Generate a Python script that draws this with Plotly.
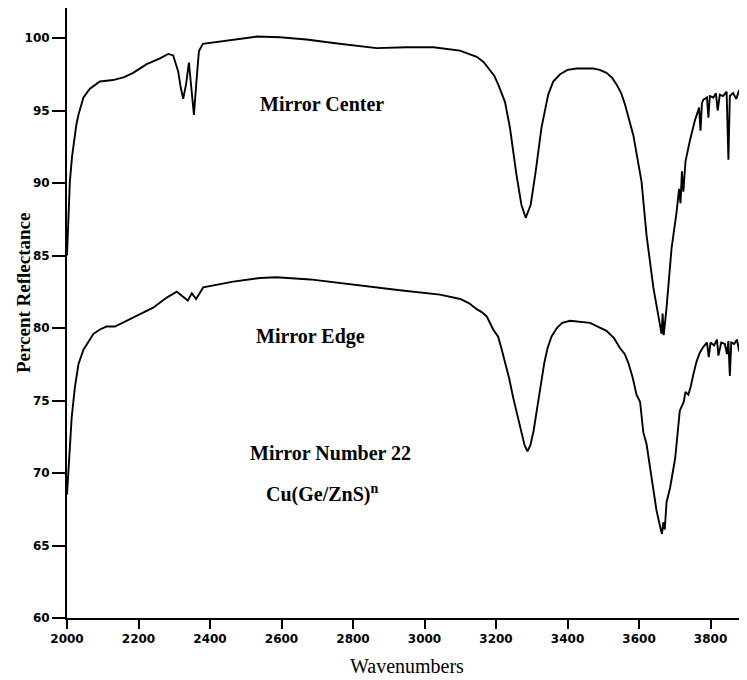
import plotly.graph_objects as go

# Mirror Center (upper trace)
center_wn = [2000, 2004, 2008, 2014, 2020, 2026, 2032, 2046, 2064, 2092, 2129, 2160, 2185,
             2223, 2260, 2283, 2297, 2311, 2318, 2325, 2333, 2341, 2348, 2355, 2362, 2369,
             2380, 2400, 2447, 2490, 2531, 2596, 2670, 2745, 2866, 2950, 3025, 3099, 3146,
             3165, 3183, 3195, 3206, 3225, 3239, 3257, 3271, 3283, 3297, 3311, 3327, 3346,
             3360, 3379, 3400, 3425, 3472, 3490, 3509, 3525, 3537, 3550, 3561, 3584, 3607,
             3621, 3640, 3654, 3660, 3663, 3666, 3669, 3677, 3691, 3705, 3712, 3716, 3720,
             3724, 3730, 3742, 3756, 3768, 3772, 3776, 3780, 3790, 3794, 3798, 3808, 3815,
             3820, 3826, 3835, 3845, 3850, 3854, 3863, 3872, 3880, 3890, 3902]
center_r = [85.0, 87.5, 90.1, 91.8, 92.9, 94.0, 94.7, 95.9, 96.5, 97.0, 97.1, 97.3, 97.6,
            98.2, 98.6, 98.9, 98.8, 97.7, 96.6, 95.8, 96.8, 98.3, 96.5, 94.7, 97.0, 99.1,
            99.6, 99.66, 99.8, 99.95, 100.1, 100.05, 99.9, 99.66, 99.3, 99.36, 99.36, 99.13, 98.7,
            98.35, 97.8, 97.4, 96.8, 95.6, 93.8, 90.6, 88.5, 87.6, 88.5, 90.8, 93.8, 96.1,
            97.0, 97.5, 97.8, 97.9, 97.9, 97.8, 97.6, 97.25, 96.8, 96.2, 95.4, 93.3, 90.1,
            86.4, 82.8, 80.9, 80.2, 79.6, 81.0, 79.5, 81.4, 85.5, 88.0, 89.6, 88.6, 90.8,
            89.4, 91.5, 92.9, 94.3, 95.2, 93.6, 95.5, 95.75, 95.9, 94.5, 96.0, 95.9, 96.2,
            95.0, 96.1, 96.0, 96.3, 91.6, 96.0, 96.2, 95.8, 96.4, 96.0, 96.3]

# Mirror Edge (lower trace)
edge_wn = [2000, 2004, 2008, 2013, 2022, 2032, 2046, 2064, 2074, 2092, 2110, 2134, 2167,
           2204, 2241, 2279, 2307, 2322, 2338, 2349, 2361, 2381, 2419, 2465, 2540, 2586,
           2680, 2792, 2931, 3043, 3100, 3125, 3146, 3160, 3174, 3192, 3206, 3215, 3225,
           3237, 3248, 3267, 3280, 3288, 3296, 3305, 3324, 3335, 3344, 3355, 3370, 3385,
           3407, 3463, 3509, 3530, 3547, 3560, 3570, 3582, 3593, 3603, 3612, 3621, 3635,
           3649, 3659, 3664, 3668, 3672, 3677, 3687, 3701, 3708, 3714, 3725, 3730, 3738,
           3745, 3752, 3761, 3770, 3780, 3790, 3795, 3800, 3810, 3818, 3822, 3830, 3840,
           3846, 3850, 3854, 3858, 3866, 3874, 3880, 3886, 3894, 3902]
edge_r = [68.5, 70.3, 72.2, 73.8, 75.9, 77.5, 78.5, 79.2, 79.6, 79.9, 80.1, 80.1, 80.5,
          81.0, 81.4, 82.1, 82.5, 82.2, 81.9, 82.4, 82.0, 82.8, 83.0, 83.2, 83.45, 83.5,
          83.35, 83.0, 82.6, 82.3, 82.0, 81.7, 81.3, 81.1, 80.8, 79.9, 79.4, 78.6, 77.7,
          76.5, 75.2, 73.1, 71.9, 71.5, 71.9, 72.9, 76.1, 77.6, 78.6, 79.4, 80.0, 80.35,
          80.5, 80.35, 79.8, 79.3, 78.6, 78.2, 77.6, 76.6, 75.4, 74.9, 72.8, 72.0, 69.7,
          67.4, 66.3, 65.8, 66.6, 66.1, 68.0, 69.0, 71.0, 72.6, 74.3, 74.9, 75.6, 75.4,
          76.0, 76.8, 77.7, 78.3, 78.7, 79.0, 78.0, 79.0, 78.8, 79.2, 78.1, 79.0, 78.9,
          78.2, 79.1, 76.7, 79.0, 78.9, 79.2, 78.4, 79.0, 79.1, 78.9]

x_ticks = [2000, 2200, 2400, 2600, 2800, 3000, 3200, 3400, 3600, 3800]
y_ticks = [60, 65, 70, 75, 80, 85, 90, 95, 100]

labels = ["Mirror Center", "Mirror Edge", "Mirror Number 22", "Cu(Ge/ZnS)<sup>n</sup>"]
label_pos = [(2713, 95.43), (2682, 79.43), (2738, 71.36), (2713, 68.6)]

fig = go.Figure()
fig.add_trace(go.Scatter(x=center_wn, y=center_r, mode="lines",
                         line=dict(color="black", width=1.9), name="Mirror Center"))
fig.add_trace(go.Scatter(x=edge_wn, y=edge_r, mode="lines",
                         line=dict(color="black", width=1.9), name="Mirror Edge"))

serif = "Liberation Serif"
for txt, (xx, yy) in zip(labels, label_pos):
    fig.add_annotation(x=xx, y=yy, xref="x", yref="y", text=txt, showarrow=False,
                       font=dict(family=serif, size=20, color="black", weight="bold"),
                       xanchor="center", yanchor="middle")

fig.add_annotation(x=-0.065, y=0.534, xref="paper", yref="paper", text="Percent Reflectance",
                   textangle=-90, showarrow=False, xanchor="center", yanchor="middle",
                   font=dict(family=serif, size=19, color="black", weight="bold"))
fig.add_annotation(x=0.5, y=-0.078, xref="paper", yref="paper", text="Wavenumbers",
                   showarrow=False, xanchor="center", yanchor="middle",
                   font=dict(family=serif, size=20, color="black"))

tickfont = dict(family="DejaVu Sans", size=12, color="black", weight="bold")
# the page body adds an 8px offset, so the figure is 8px smaller and margins shifted
fig.update_layout(
    width=739, height=672,
    margin=dict(l=59, r=0, t=0, b=62),
    paper_bgcolor="white", plot_bgcolor="white",
    showlegend=False,
    xaxis=dict(range=[2000, 3902], tickvals=x_ticks, ticks="outside", ticklen=9,
               tickwidth=1.5, tickcolor="black", showline=True, linecolor="black",
               linewidth=2, showgrid=False, zeroline=False, tickfont=tickfont),
    yaxis=dict(range=[60, 102.07], tickvals=y_ticks, ticks="outside", ticklen=13,
               tickwidth=1.5, tickcolor="black", showline=True, linecolor="black",
               linewidth=2, showgrid=False, zeroline=False, tickfont=tickfont),
)

fig.write_html("out.html")
